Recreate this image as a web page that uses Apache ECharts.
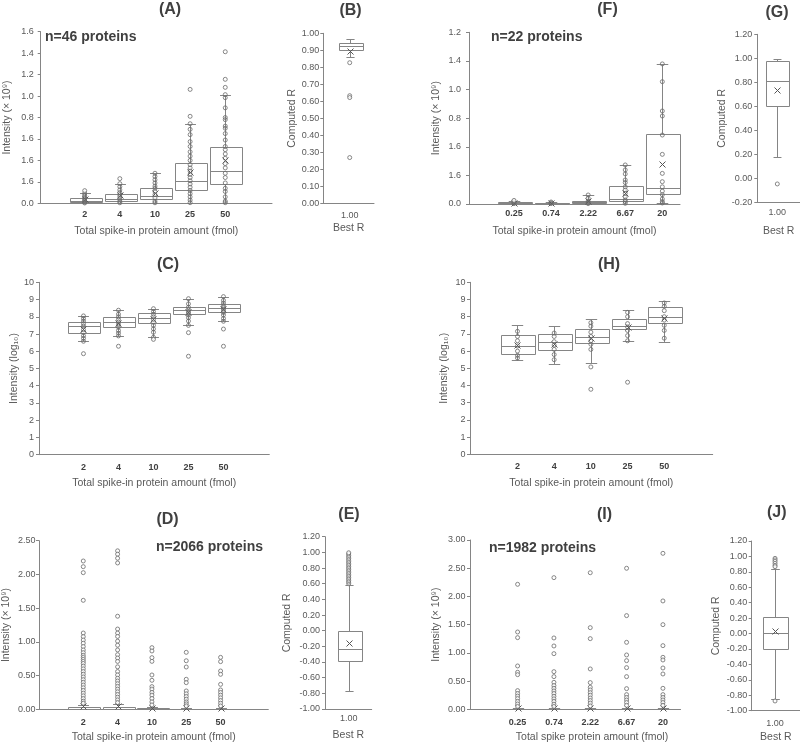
<!DOCTYPE html>
<html><head><meta charset="utf-8">
<script src="https://cdn.jsdelivr.net/npm/echarts@6/dist/echarts.min.js"></script>
<style>html,body{margin:0;padding:0;background:#fff}#c{width:800px;height:745px}</style>
</head><body><div id="c"></div>
<script>
// ---------- Panel A ----------
const catsA = ['2','4','10','25','50'];
const boxA = [[0,0.01,0.022,0.05,0.093],[0,0.019,0.043,0.09,0.183],[0,0.037,0.071,0.14,0.28],[0.006,0.121,0.208,0.379,0.742],[0.006,0.18,0.304,0.525,1.013]];
const meanA = [0.04,0.075,0.10,0.289,0.404];
const ptsA = [
  [0.118,0.093,0.075,0.06,0.045,0.03,0.02,0.01,0.003],
  [0.23,0.183,0.155,0.125,0.1,0.08,0.06,0.04,0.02,0.005],
  [0.28,0.25,0.22,0.19,0.16,0.14,0.11,0.08,0.05,0.02,0.005],
  [1.062,0.811,0.742,0.69,0.64,0.575,0.53,0.48,0.44,0.40,0.36,0.33,0.30,0.27,0.24,0.21,0.18,0.15,0.12,0.09,0.06,0.03,0.006],
  [1.413,1.156,1.081,1.013,0.985,0.89,0.80,0.78,0.72,0.70,0.65,0.59,0.53,0.50,0.46,0.42,0.37,0.33,0.28,0.24,0.19,0.14,0.11,0.06,0.02,0.006]
];
const ticksA = ['0.0','1.6','1.6','1.6','0.8','1.0','1.2','1.4','1.6'];

// ---------- Panel B ----------
const catsB = ['1.00'];
const boxB = [[0.863,0.902,0.927,0.945,0.965]];
const meanB = [0.898];
const ptsB = [[0.827,0.633,0.622,0.269]];
const ticksB = ['0.00','0.10','0.20','0.30','0.40','0.50','0.60','0.70','0.80','0.90','1.00'];

// ---------- Panel F ----------
const catsF = ['0.25','0.74','2.22','6.67','20'];
const boxF = [[0,0.004,0.007,0.012,0.021],[0,0.003,0.005,0.008,0.014],[0,0.007,0.011,0.023,0.063],[0,0.019,0.035,0.126,0.273],[0.007,0.068,0.11,0.487,0.979]];
const meanF = [0.01,0.006,0.02,0.075,0.28];
const ptsF = [
  [0.025,0.015,0.008,0.003],
  [0.014,0.008,0.003],
  [0.063,0.04,0.02,0.008,0.003],
  [0.273,0.238,0.21,0.168,0.15,0.12,0.098,0.075,0.05,0.028,0.016,0.005],
  [0.979,0.855,0.65,0.615,0.482,0.347,0.214,0.156,0.12,0.09,0.065,0.035,0.017,0.007]
];
const ticksF = ['0.0','1.6','1.6','0.8','1.0','1.4','1.2'];

// ---------- Panel G ----------
const catsG = ['1.00'];
const boxG = [[0.175,0.606,0.808,0.978,0.997]];
const meanG = [0.736];
const ptsG = [[-0.047]];
const ticksG = ['-0.20','0.00','0.20','0.40','0.60','0.80','1.00','1.20'];

// ---------- Panel C ----------
const catsC = ['2','4','10','25','50'];
const boxC = [[6.58,7.06,7.47,7.72,8.05],[6.89,7.39,7.70,7.97,8.38],[6.81,7.66,7.93,8.20,8.47],[7.50,8.14,8.39,8.59,9.05],[7.74,8.28,8.53,8.76,9.17]];
const meanC = [7.31,7.62,7.85,8.28,8.47];
const ptsC = [
  [5.86,6.58,6.75,6.9,7.1,7.25,7.45,7.6,7.75,7.9,8.05],
  [6.29,6.89,7.05,7.2,7.4,7.55,7.7,7.85,8.0,8.15,8.38],
  [6.69,6.81,7.1,7.3,7.5,7.7,7.85,8.0,8.15,8.3,8.47],
  [5.71,7.08,7.50,7.75,7.95,8.1,8.2,8.3,8.4,8.55,8.75,9.05],
  [6.29,7.29,7.74,7.9,8.1,8.25,8.35,8.45,8.55,8.65,8.8,8.95,9.17]
];
const ticksC = ['0','1','2','3','4','5','6','7','8','9','10'];

// ---------- Panel H ----------
const catsH = ['2','4','10','25','50'];
const boxH = [[5.50,5.83,6.28,6.92,7.50],[5.27,6.05,6.51,7.00,7.48],[5.33,6.47,6.84,7.29,7.89],[6.59,7.27,7.48,7.89,8.37],[6.53,7.62,8.00,8.59,8.91]];
const meanH = [6.36,6.43,6.74,7.38,7.95];
const ptsH = [
  [7.15,6.85,6.6,6.3,6.0,5.75,5.6],
  [7.05,6.85,6.55,6.35,6.1,5.8,5.5],
  [3.78,5.08,6.1,6.4,6.6,6.85,7.1,7.45,7.65],
  [4.19,6.6,6.9,7.2,7.4,7.6,8.0,8.25],
  [6.75,7.2,7.5,7.8,8.0,8.35,8.6,8.8]
];
const ticksH = ['0','1','2','3','4','5','6','7','8','9','10'];

// ---------- Panel D ----------
const catsD = ['2','4','10','25','50'];
const boxD = [[0,0.003,0.01,0.028,0.07],[0,0.003,0.01,0.03,0.074],[0,0.002,0.005,0.012,0.03],[0,0.001,0.003,0.007,0.015],[0,0.001,0.004,0.009,0.02]];
const meanD = [0.05,0.05,0.025,0.015,0.02];
const ptsD = [
  [2.199,2.115,2.026,1.616,1.131,1.077,1.027,0.98,0.93,0.88,0.84,0.80,0.77,0.74,0.71,0.68,0.64,0.60,0.56,0.52,0.48,0.44,0.40,0.36,0.32,0.28,0.24,0.20,0.16,0.12,0.09],
  [2.35,2.30,2.24,2.17,1.38,1.19,1.13,1.08,1.01,0.95,0.88,0.81,0.76,0.71,0.63,0.56,0.51,0.46,0.42,0.38,0.34,0.30,0.26,0.22,0.18,0.14,0.10],
  [0.914,0.865,0.766,0.711,0.509,0.43,0.336,0.30,0.25,0.21,0.16,0.11,0.065],
  [0.845,0.72,0.627,0.445,0.395,0.272,0.23,0.19,0.15,0.11,0.08,0.05],
  [0.77,0.707,0.568,0.519,0.37,0.287,0.25,0.21,0.17,0.13,0.09,0.05]
];
const ticksD = ['0.00','0.50','1.00','1.50','2.00','2.50'];

// ---------- Panel E ----------
const catsE = ['1.00'];
const boxE = [[-0.774,-0.39,-0.23,0.0,0.587]];
const meanE = [-0.153];
const ptsE = [[0.60,0.62,0.64,0.66,0.68,0.70,0.72,0.74,0.76,0.78,0.80,0.82,0.84,0.86,0.88,0.90,0.92,0.94,0.96,0.98,0.995]];
const ticksE = ['-1.00','-0.80','-0.60','-0.40','-0.20','0.00','0.20','0.40','0.60','0.80','1.00','1.20'];

// ---------- Panel I ----------
const catsI = ['0.25','0.74','2.22','6.67','20'];
const boxI = [[0,0.001,0.003,0.007,0.018],[0,0.001,0.003,0.007,0.018],[0,0.001,0.003,0.007,0.018],[0,0.001,0.004,0.009,0.022],[0,0.001,0.004,0.009,0.022]];
const meanI = [0.02,0.02,0.02,0.03,0.03];
const ptsI = [
  [2.215,1.37,1.27,0.768,0.656,0.614,0.331,0.28,0.235,0.19,0.14,0.095,0.05],
  [2.333,1.264,1.122,0.986,0.667,0.579,0.478,0.42,0.372,0.325,0.28,0.23,0.185,0.14,0.09,0.05],
  [2.42,1.447,1.252,0.715,0.473,0.39,0.343,0.295,0.25,0.2,0.155,0.11,0.06],
  [2.499,1.66,1.187,0.963,0.862,0.738,0.579,0.366,0.26,0.21,0.165,0.12,0.07],
  [2.764,1.92,1.50,1.128,0.921,0.874,0.732,0.626,0.372,0.26,0.21,0.165,0.12,0.07]
];
const ticksI = ['0.00','0.50','1.00','1.50','2.00','2.50','3.00'];

// ---------- Panel J ----------
const catsJ = ['1.00'];
const boxJ = [[-0.853,-0.204,0.003,0.215,0.837]];
const meanJ = [0.029];
const ptsJ = [[0.975,0.955,0.935,0.91,0.885,0.867,-0.874]];
const ticksJ = ['-1.00','-0.80','-0.60','-0.40','-0.20','0.00','0.20','0.40','0.60','0.80','1.00','1.20'];

const FONT = '"Liberation Sans", Arial, Helvetica, sans-serif';
const LINE = '#858585';
const TXT = '#595959';
const DARK = '#404040';

const intensity9 = 'Intensity (× 10⁹)';
const xNameA = 'Total spike-in protein amount (fmol)';

const panels = [
  {g:[40.7,31.7,272,203.3], x:[-0.252,6.33], y:[0,1.6,0.2], ticks:ticksA, cats:catsA, box:boxA, mean:meanA, pts:ptsA, bw:32, yName:intensity9, yGap:28, yLM:7, xName:xNameA, xGap:22, xLM:7, bold:true},
  {g:[323.3,33.3,374,203.3], x:[0,1.92], y:[0,1.0,0.1], ticks:ticksB, cats:catsB, box:boxB, mean:meanB, pts:ptsB, bw:24, yName:'Computed R', yGap:26, yLM:4, xName:'Best R', xGap:19, xLM:8, bold:false},
  {g:[469,32.3,680,204], x:[-0.214,5.477], y:[0,1.2,0.2], ticks:ticksF, cats:catsF, box:boxF, mean:meanF, pts:ptsF, bw:34, yName:intensity9, yGap:27, yLM:8, xName:xNameA, xGap:22, xLM:5, bold:true},
  {g:[757.3,34.3,800,202.3], x:[0,2.135], y:[-0.2,1.2,0.2], ticks:ticksG, cats:catsG, box:boxG, mean:meanG, pts:ptsG, bw:23.3, yName:'Computed R', yGap:30, yLM:5, xName:'Best R', xGap:23, xLM:6, bold:false},
  {g:[39,282.3,269.3,454.7], x:[-0.271,6.31], y:[0,10,1], ticks:ticksC, cats:catsC, box:boxC, mean:meanC, pts:ptsC, bw:32, yName:'Intensity (log₁₀)', yGap:19, yLM:5, xName:xNameA, xGap:23, xLM:8, bold:true},
  {g:[470,282.3,712.7,454.3], x:[-0.294,6.32], y:[0,10,1], ticks:ticksH, cats:catsH, box:boxH, mean:meanH, pts:ptsH, bw:33.5, yName:'Intensity (log₁₀)', yGap:20, yLM:4.5, xName:xNameA, xGap:23, xLM:8, bold:true},
  {g:[39,540.7,268.3,709.3], x:[-0.29,6.39], y:[0,2.5,0.5], ticks:ticksD, cats:catsD, box:boxD, mean:meanD, pts:ptsD, bw:32, yName:intensity9, yGap:27, yLM:3.5, xName:xNameA, xGap:22, xLM:9, bold:true},
  {g:[325,536.7,371.7,709], x:[0,1.97], y:[-1.0,1.2,0.2], ticks:ticksE, cats:catsE, box:boxE, mean:meanE, pts:ptsE, bw:24, yName:'Computed R', yGap:32, yLM:5, xName:'Best R', xGap:21, xLM:5.5, bold:false},
  {g:[470,540,680,709.3], x:[-0.31,5.47], y:[0,3.0,0.5], ticks:ticksI, cats:catsI, box:boxI, mean:meanI, pts:ptsI, bw:33, yName:intensity9, yGap:28, yLM:4.5, xName:'Total spike protein amount (fmol)', xGap:22, xLM:9, bold:true, xNameShift:34},
  {g:[751.7,541,800,710.7], x:[0,2.07], y:[-1.0,1.2,0.2], ticks:ticksJ, cats:catsJ, box:boxJ, mean:meanJ, pts:ptsJ, bw:25.4, yName:'Computed R', yGap:30, yLM:4.5, xName:'Best R', xGap:21, xLM:8, bold:false}
];

const titles = [
  ['(A)',170,10],['(B)',350.5,11],['(F)',607.5,10],['(G)',777,12.5],
  ['(C)',168,265],['(H)',609,265],['(D)',167.5,520],['(E)',349,515],['(I)',604.5,515],['(J)',776.7,512.5]
];
const notes = [
  ['n=46 proteins',45,37],['n=22 proteins',491,37],['n=2066 proteins',156,547.5],['n=1982 proteins',489,548]
];

function makeRender(bw){
  return function(params, api){
    const x = api.value(0);
    const vals = [1,2,3,4,5,6].map(i => api.value(i));
    const cx = Math.round(api.coord([x, vals[0]])[0]) + 0.5;
    const yy = vals.map(v => Math.round(api.coord([x, v])[1]) + 0.5);
    const h = bw / 2, cap = bw * 0.17;
    const st = {stroke: LINE, lineWidth: 1, fill: null};
    const L = (x1,y1,x2,y2,s) => ({type:'line', shape:{x1,y1,x2,y2}, style: s || st});
    const left = Math.round(cx - h) + 0.5;
    const w = Math.round(bw);
    const xs = {stroke:'#555', lineWidth:1, fill:null};
    const ym = yy[5];
    return {type:'group', children:[
      L(cx, yy[4], cx, yy[3]),
      L(cx, yy[1], cx, yy[0]),
      L(cx-cap, yy[4], cx+cap, yy[4]),
      L(cx-cap, yy[0], cx+cap, yy[0]),
      {type:'rect', shape:{x:left, y:yy[3], width:w, height:Math.max(0, yy[1]-yy[3])}, style:{stroke:LINE, fill:'#fff', lineWidth:1}},
      L(left, yy[2], left+w, yy[2]),
      L(cx-3, ym-3, cx+3, ym+3, xs),
      L(cx-3, ym+3, cx+3, ym-3, xs)
    ]};
  };
}

const grid = [], xAxis = [], yAxis = [], series = [];
panels.forEach((p, i) => {
  grid.push({left:p.g[0], top:p.g[1], width:p.g[2]-p.g[0], height:p.g[3]-p.g[1], containLabel:false});
  const custom = p.cats.map((_, k) => k + 1);
  xAxis.push({
    gridIndex:i, type:'value', min:p.x[0], max:p.x[1],
    axisLine:{show:true, onZero:false, lineStyle:{color:LINE, width:1}},
    axisTick:{show:false}, splitLine:{show:false},
    axisLabel:{customValues:custom, margin:p.xLM, fontSize:9, fontFamily:FONT,
      color: p.bold ? DARK : TXT, fontWeight: p.bold ? 'bold' : 'normal',
      formatter: v => p.cats[Math.round(v) - 1] || ''},
    name:p.xName, nameLocation:'middle', nameGap:p.xGap,
    nameTextStyle:{fontSize:10.5, fontFamily:FONT, color:TXT, verticalAlign:'top',
      padding: p.xNameShift ? [0,0,0,p.xNameShift] : 0}
  });
  yAxis.push({
    gridIndex:i, type:'value', min:p.y[0], max:p.y[1], interval:p.y[2],
    axisLine:{show:true, onZero:false, lineStyle:{color:LINE, width:1}},
    axisTick:{show:true, length:3, lineStyle:{color:LINE}},
    splitLine:{show:false},
    axisLabel:{margin:p.yLM, fontSize:9, fontFamily:FONT, color:TXT,
      formatter: v => p.ticks[Math.round((v - p.y[0]) / p.y[2])]},
    name:p.yName, nameLocation:'middle', nameGap:p.yGap, nameRotate:90,
    nameTextStyle:{fontSize:10.5, fontFamily:FONT, color:TXT}
  });
  const boxData = p.box.map((b, k) => [k + 1, b[0], b[1], b[2], b[3], b[4], p.mean[k]]);
  series.push({
    type:'custom', xAxisIndex:i, yAxisIndex:i, z:2, silent:true,
    renderItem: makeRender(p.bw), encode:{x:0, y:[1,2,3,4,5,6]}, data: boxData
  });
  const inner = [], outer = [];
  p.pts.forEach((arr, k) => arr.forEach(v => {
    const b = p.box[k];
    if (v < b[0] - 1e-9 || v > b[4] + 1e-9) outer.push([k + 1, v]); else inner.push([k + 1, v]);
  }));
  series.push({type:'scatter', xAxisIndex:i, yAxisIndex:i, z:3, silent:true, symbol:'circle', symbolSize:4,
    itemStyle:{color:'rgba(255,255,255,0)', borderColor:'#6a6a6a', borderWidth:1}, data:inner});
  series.push({type:'scatter', xAxisIndex:i, yAxisIndex:i, z:3, silent:true, symbol:'circle', symbolSize:4,
    itemStyle:{color:'#fff', borderColor:'#6a6a6a', borderWidth:1}, data:outer});
});

const graphic = [];
titles.forEach(t => graphic.push({type:'text', x:t[1], y:t[2], silent:true,
  style:{text:t[0], font:'bold 16px ' + FONT, fill:DARK, align:'center', verticalAlign:'middle', textAlign:'center', textVerticalAlign:'middle'}}));
notes.forEach(t => graphic.push({type:'text', x:t[1], y:t[2], silent:true,
  style:{text:t[0], font:'bold 14px ' + FONT, fill:DARK, align:'left', verticalAlign:'middle', textAlign:'left', textVerticalAlign:'middle'}}));

const chart = echarts.init(document.getElementById('c'), null, {renderer:'canvas'});
chart.setOption({animation:false, backgroundColor:'#fff', grid, xAxis, yAxis, series, graphic});
</script></body></html>
